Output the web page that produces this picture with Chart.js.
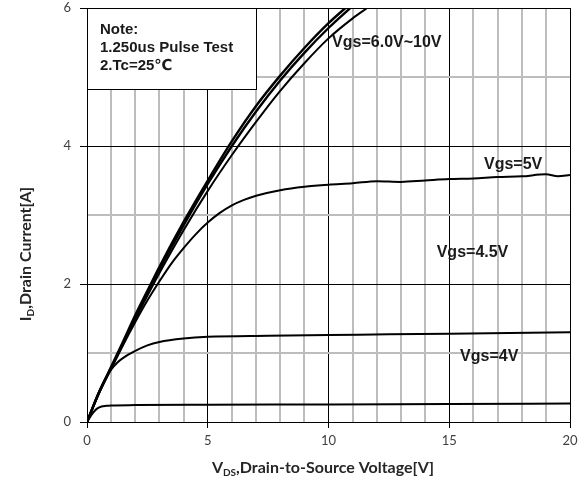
<!DOCTYPE html>
<html><head><meta charset="utf-8">
<script src="https://cdn.jsdelivr.net/npm/chart.js@4.4.1/dist/chart.umd.min.js"></script>
<style>html,body{margin:0;padding:0;background:#fff;}canvas{display:block;}</style>
</head><body>
<canvas id="c" width="584" height="489" style="width:584px;height:489px"></canvas>
<script>
// ---- data ----
const xVgs10 = [0,0.5,1,1.5,2,2.5,3,4,5,6,7,8,9,10,10.7];
const idVgs10 = [0,0.43,0.8,1.17,1.55,1.9,2.25,2.9,3.5,4.07,4.58,5.02,5.42,5.78,6.0];
const xVgs8 = [0,0.5,1,1.5,2,2.5,3,4,5,6,7,8,9,10,10.9];
const idVgs8 = [0,0.43,0.79,1.15,1.52,1.87,2.21,2.85,3.45,4.0,4.5,4.95,5.35,5.71,6.0];
const xVgs6 = [0,0.5,1,1.5,2,2.5,3,4,5,6,7,8,9,10,11,11.6];
const idVgs6 = [0,0.42,0.78,1.13,1.49,1.83,2.16,2.78,3.35,3.87,4.35,4.8,5.2,5.56,5.85,6.0];
const xVgs5 = [0,0.5,1,1.5,2,2.5,3,3.5,4,4.5,5,5.5,6,6.5,7,8,9,10,11,12,13,14,15,16,17,18,19,19.5,20];
const idVgs5 = [0,0.42,0.77,1.12,1.45,1.76,2.04,2.3,2.52,2.72,2.89,3.03,3.14,3.22,3.28,3.36,3.41,3.44,3.46,3.49,3.48,3.5,3.52,3.53,3.55,3.56,3.59,3.56,3.58];
const xVgs45 = [0,0.25,0.5,0.75,1,1.25,1.5,2,2.5,3,4,5,7.5,10,12.5,15,17.5,20];
const idVgs45 = [0,0.23,0.44,0.62,0.76,0.86,0.93,1.03,1.11,1.16,1.21,1.235,1.25,1.26,1.27,1.28,1.29,1.30];
const xVgs4 = [0,0.2,0.4,0.6,0.8,1,2,5,10,15,20];
const idVgs4 = [0,0.11,0.19,0.225,0.235,0.24,0.245,0.25,0.255,0.262,0.268];
const xTickLabels = [0,5,10,15,20];
const yTickLabels = [0,2,4,6];
const curveLabels = ['Vgs=6.0V~10V','Vgs=5V','Vgs=4.5V','Vgs=4V'];
const noteLines = ['Note:','1.250us Pulse Test','2.Tc=25\u2103'];

function pts(xs, ys){ return xs.map((x,i)=>({x:x,y:ys[i]})); }
function ds(xs, ys, w){
  return {data: pts(xs,ys), borderColor:'#000', borderWidth:w||2, pointRadius:0,
          cubicInterpolationMode:'monotone', fill:false};
}

const LABEL_FONT = 'bold 16px "Liberation Sans", Arial, sans-serif';
const labelPos = [[10.15,5.5],[16.44,3.73],[14.48,2.45],[15.45,0.95]];

const decor = {
  id:'decor',
  afterDatasetsDraw(chart){
    const ctx = chart.ctx, a = chart.chartArea, xs = chart.scales.x, ys = chart.scales.y;
    ctx.save();
    ctx.fillStyle = '#fff';
    ctx.fillRect(a.left, a.top, 169, 81);
    ctx.strokeStyle = '#000'; ctx.lineWidth = 1;
    ctx.strokeRect(a.left+0.5, a.top+0.5, 169, 81);
    ctx.fillStyle = '#1a1a1a';
    ctx.font = 'bold 15px "Liberation Sans", Arial, "DejaVu Sans", sans-serif';
    ctx.textBaseline = 'middle'; ctx.textAlign = 'left';
    noteLines.forEach((t,i)=>ctx.fillText(t, a.left+13, a.top+22+i*18));
    ctx.font = LABEL_FONT;
    curveLabels.forEach((t,i)=>{
      ctx.fillText(t, xs.getPixelForValue(labelPos[i][0]), ys.getPixelForValue(labelPos[i][1]));
    });
    ctx.restore();
  },
  afterDraw(chart){
    const ctx = chart.ctx;
    function drawTitle(parts, cx, cy, rot){
      ctx.save();
      ctx.translate(cx, cy);
      if (rot) ctx.rotate(-Math.PI/2);
      const mainF = 'bold 16px Lato, "Liberation Sans", sans-serif';
      const subF = 'bold 10px Lato, "Liberation Sans", sans-serif';
      let w = 0;
      parts.forEach(p=>{ ctx.font = p[1]?subF:mainF; p.w = ctx.measureText(p[0]).width; w += p.w; });
      let x = -w/2;
      ctx.fillStyle = '#262626'; ctx.textBaseline = 'middle'; ctx.textAlign = 'left';
      parts.forEach(p=>{ ctx.font = p[1]?subF:mainF; ctx.fillText(p[0], x, p[1]?5:0); x += p.w; });
      ctx.restore();
    }
    drawTitle([['V',false],['DS',true],[',Drain-to-Source Voltage[V]',false]], 323, 468, false);
    drawTitle([['I',false],['D',true],[',Drain Current[A]',false]], 26, 254, true);
  }
};

function gridColor(major){ return ctx => (ctx.tick && ctx.tick.value % major === 0) ? '#000' : '#bdbdbd'; }
function tickColor(major){ return ctx => (ctx.tick && ctx.tick.value % major === 0) ? '#000' : 'rgba(0,0,0,0)'; }
function gridWidth(major){ return ctx => (ctx.tick && ctx.tick.value % major === 0) ? 1 : 2; }

new Chart(document.getElementById('c'), {
  type:'line',
  data:{ datasets:[ds(xVgs10,idVgs10,2.4), ds(xVgs8,idVgs8,2.4), ds(xVgs6,idVgs6,2), ds(xVgs5,idVgs5), ds(xVgs45,idVgs45), ds(xVgs4,idVgs4)] },
  options:{
    responsive:false, animation:false, devicePixelRatio:1,
    layout:{padding:{top:8,right:14,left:0,bottom:0}},
    plugins:{legend:{display:false}, tooltip:{enabled:false}},
    scales:{
      x:{type:'linear', min:0, max:20,
         afterFit: s => { s.height = 67; s.paddingLeft = 0; s.paddingRight = 0; },
         ticks:{stepSize:1, autoSkip:false, maxRotation:0, padding:5, color:'#404040',
                font:{family:'Lato', size:13},
                callback: v => xTickLabels.includes(v) ? String(v) : ''},
         grid:{color:gridColor(5), tickColor:tickColor(5), lineWidth:gridWidth(5), tickLength:6},
         border:{display:true, color:'#000', width:1}},
      y:{type:'linear', min:0, max:6,
         afterFit: s => { s.width = 87; s.paddingTop = 0; s.paddingBottom = 0; },
         ticks:{stepSize:1, autoSkip:false, padding:9, color:'#404040',
                font:{family:'Lato', size:13},
                callback: v => yTickLabels.includes(v) ? String(v) : ''},
         grid:{color:gridColor(2), tickColor:tickColor(2), lineWidth:gridWidth(2), tickLength:7},
         border:{display:true, color:'#000', width:1}}
    }
  },
  plugins:[decor]
});
</script>
</body></html>
